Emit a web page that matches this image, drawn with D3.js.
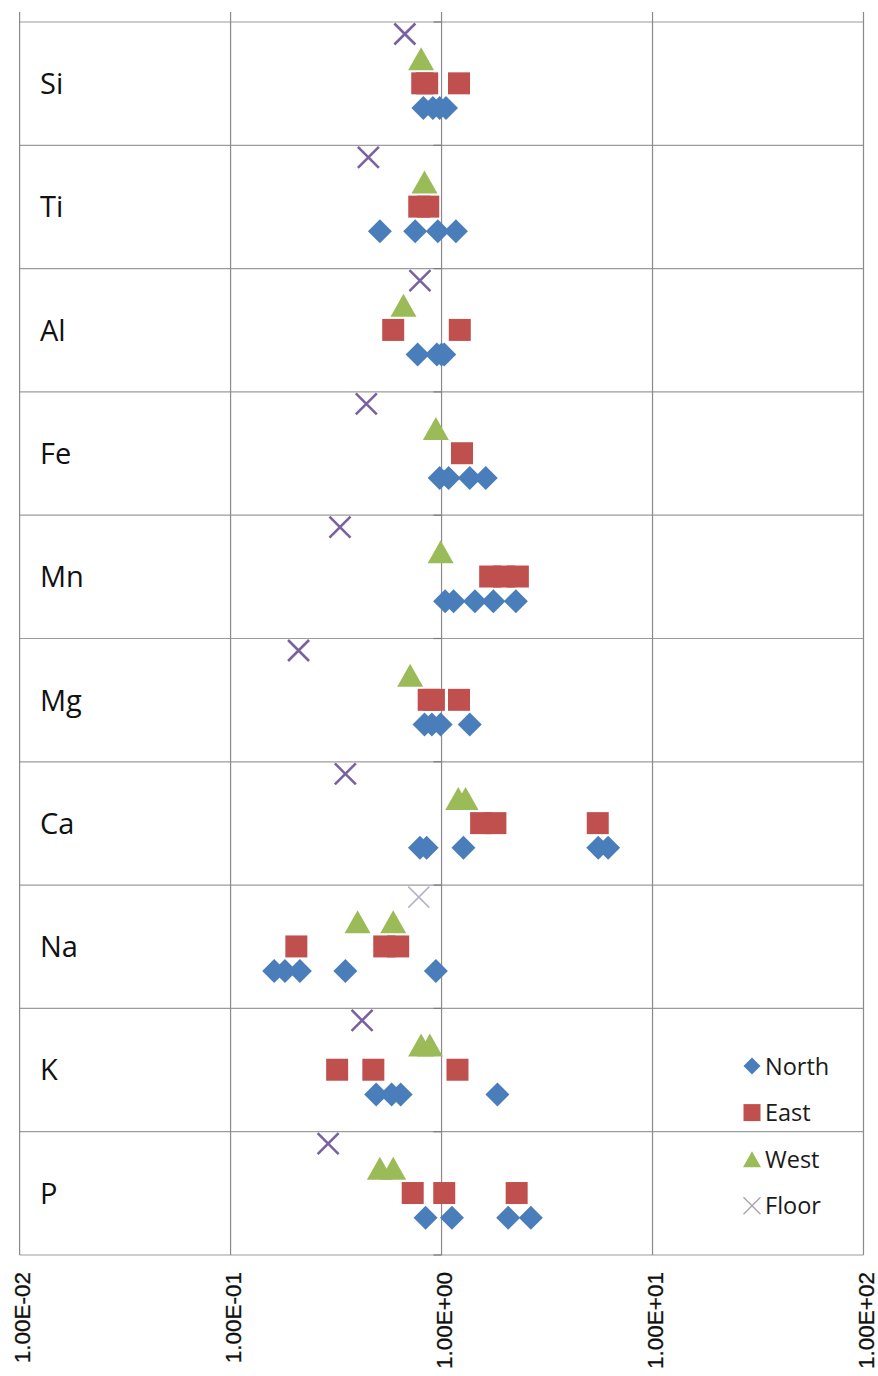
<!DOCTYPE html>
<html>
<head>
<meta charset="utf-8">
<script src="https://cdn.jsdelivr.net/npm/d3@7"></script>
<style>
  html, body { margin: 0; padding: 0; background: #fff; }
  svg { display: block; }
</style>
</head>
<body>
<svg id="chart" width="878" height="1376"></svg>
<script>
// Elements, top to bottom
const elements = ["Si", "Ti", "Al", "Fe", "Mn", "Mg", "Ca", "Na", "K", "P"];

// Relative concentrations per element (log scale), one list per sampling side
const north = [
  [0.82, 0.91, 0.98, 1.05],
  [0.51, 0.75, 0.96, 1.17],
  [0.77, 0.95, 1.0, 1.03],
  [0.98, 1.08, 1.36, 1.62],
  [1.04, 1.14, 1.44, 1.76, 2.25],
  [0.83, 0.90, 0.99, 1.36],
  [0.79, 0.85, 1.27, 5.53, 6.16],
  [0.161, 0.181, 0.213, 0.35, 0.94],
  [0.49, 0.58, 0.64, 1.84],
  [0.84, 1.12, 2.07, 2.65]
];
const east = [
  [0.81, 0.855, 1.21],
  [0.784, 0.865],
  [0.59, 1.22],
  [1.25],
  [1.70, 1.98, 2.30],
  [0.869, 0.92, 1.21],
  [1.54, 1.80, 5.50],
  [0.205, 0.535, 0.623],
  [0.32, 0.475, 1.19],
  [0.73, 1.03, 2.27]
];
const west = [
  [0.80],
  [0.83],
  [0.66],
  [0.94],
  [0.99],
  [0.71],
  [1.20, 1.30],
  [0.40, 0.59],
  [0.80, 0.88],
  [0.51, 0.59]
];
const floor = [0.67, 0.45, 0.79, 0.44, 0.33, 0.21, 0.35, 0.78, 0.42, 0.29];

// Axis ticks
const decades = [0.01, 0.1, 1, 10, 100];
const tickLabels = ["1.00E-02", "1.00E-01", "1.00E+00", "1.00E+01", "1.00E+02"];

const seriesNames = ["North", "East", "West", "Floor"];

// ---- layout ----
const plot = { left: 19.6, right: 863.5, top: 22, bottom: 1255, gridTop: 12 };
const colors = { North: "#4a7ebb", East: "#c0504d", West: "#9bbb59", Floor: "#7a62a0" };

const svg = d3.select("#chart");

const x = d3.scaleLog().domain([0.01, 100]).range([plot.left, plot.right]);
const row = d3.scaleBand().domain(elements).range([plot.top, plot.bottom]);
const slot = d3.scalePoint().domain(["Floor", "West", "East", "North"]).range([12, 86]);

// ---- grid ----
const grid = svg.append("g");
const boundaries = elements.map(e => row(e)).concat([plot.bottom]);
grid.selectAll("line.h").data(boundaries).join("line")
  .attr("x1", plot.left).attr("x2", plot.right)
  .attr("y1", d => d).attr("y2", d => d)
  .attr("stroke", "#9c9c9c").attr("stroke-width", 1.2);
grid.selectAll("line.v").data(decades).join("line")
  .attr("x1", d => x(d)).attr("x2", d => x(d))
  .attr("y1", plot.gridTop).attr("y2", plot.bottom)
  .attr("stroke", "#8a8a8a").attr("stroke-width", 1.2);

// category-axis ticks along the 1.00E+00 line
grid.selectAll("line.t").data(boundaries).join("line")
  .attr("x1", x(1) - 8).attr("x2", x(1))
  .attr("y1", d => d).attr("y2", d => d)
  .attr("stroke", "#7a7a7a").attr("stroke-width", 1.2);

// ---- value axis labels ----
const axis = svg.append("g")
  .attr("transform", `translate(0,${plot.bottom})`)
  .call(d3.axisBottom(x).tickValues(decades).tickFormat((d, i) => tickLabels[i]).tickSize(0));
axis.select(".domain").remove();
axis.selectAll("text")
  .attr("transform", "rotate(-90)")
  .attr("text-anchor", "end")
  .attr("x", -17)
  .attr("y", 9.5)
  .attr("dy", 0)
  .attr("fill", "#111")
  .attr("stroke", "#111")
  .attr("stroke-width", 0.3)
  .style("font-family", "'Liberation Sans', Arial, sans-serif")
  .style("font-size", "22.5px");

// ---- element labels ----
svg.append("g").selectAll("text").data(elements).join("text")
  .attr("x", 40)
  .attr("y", d => row(d) + 72)
  .attr("fill", "#111")
  .style("font-family", "'Open Sans', sans-serif")
  .style("font-size", "29px")
  .text(d => d);

// ---- marker shapes ----
const shape = {
  North: r => `M0,${-r}L${r},0L0,${r}L${-r},0Z`,
  East: r => `M${-r},${-r}H${r}V${r}H${-r}Z`,
  West: r => `M0,${-r}L${r * 1.13},${r}L${-r * 1.13},${r}Z`,
  Floor: r => `M${-r},${-r}L${r},${r}M${-r},${r}L${r},${-r}`
};

function flatten(series, name) {
  const out = [];
  series.forEach((vals, i) => {
    const list = Array.isArray(vals) ? vals : [vals];
    list.forEach(v => out.push({ el: elements[i], v, name }));
  });
  return out;
}

const marks = svg.append("g");
const sizes = { North: 12, East: 11, West: 11.5, Floor: 10.5 };
// the Na floor reading is shown faded
const fadedFloor = new Set(["Na"]);

[["North", north], ["East", east], ["West", west], ["Floor", floor]].forEach(([name, series]) => {
  const pts = flatten(series, name);
  const sel = marks.append("g").selectAll("path").data(pts).join("path")
    .attr("transform", d => `translate(${x(d.v)},${row(d.el) + slot(name)})`)
    .attr("d", shape[name](sizes[name]));
  if (name === "Floor") {
    sel.attr("fill", "none")
      .attr("stroke", d => fadedFloor.has(d.el) ? "#b9b3c6" : colors.Floor)
      .attr("stroke-width", d => fadedFloor.has(d.el) ? 1.6 : 2.6);
  } else {
    sel.attr("fill", colors[name]);
  }
});

// ---- legend ----
const legend = svg.append("g").attr("transform", "translate(752,1066)");
const legendSizes = { North: 8.5, East: 8.5, West: 8, Floor: 8.5 };
const items = legend.selectAll("g").data(seriesNames).join("g")
  .attr("transform", (d, i) => `translate(0,${i * 46.6})`);
items.append("path")
  .attr("d", d => shape[d](legendSizes[d]))
  .attr("fill", d => d === "Floor" ? "none" : colors[d])
  .attr("stroke", d => d === "Floor" ? "#a8a3b3" : "none")
  .attr("stroke-width", 1.4);
items.append("text")
  .attr("x", 13)
  .attr("y", 8.5)
  .attr("fill", "#1a1a1a")
  .style("font-family", "'Open Sans', sans-serif")
  .style("font-size", "23.5px")
  .text(d => d);
</script>
</body>
</html>
